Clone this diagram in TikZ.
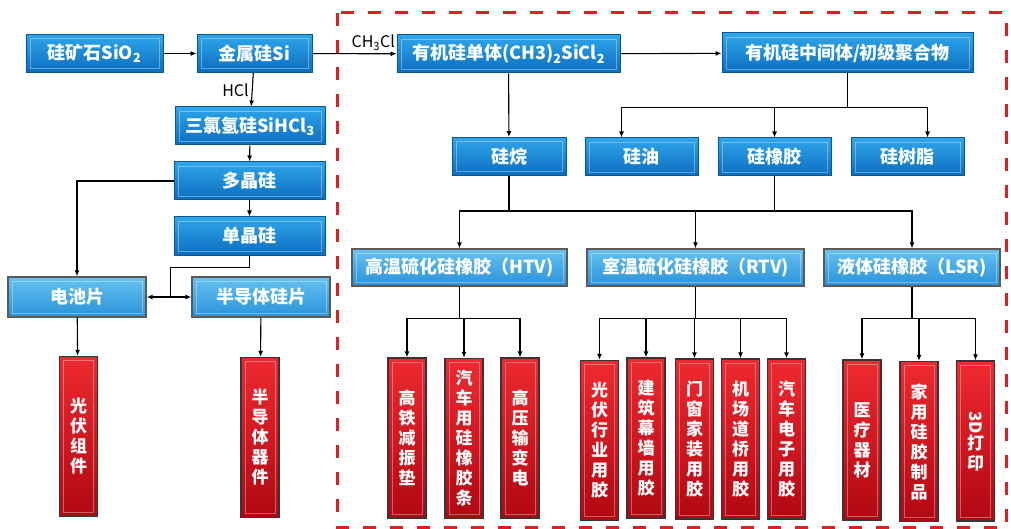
\documentclass[tikz,border=0pt]{standalone}
\usepackage{fontspec}
\setmainfont{Noto Sans CJK SC}
\usepackage{graphicx}
\usepackage{xcolor}
\definecolor{siedge}{HTML}{0A5796}
\definecolor{sitop}{HTML}{2FA6EA}
\definecolor{sibot}{HTML}{0B6DBF}
\definecolor{ltop}{HTML}{66C2F2}
\definecolor{lbot}{HTML}{2A92D8}
\definecolor{ledge}{HTML}{5C5A58}
\definecolor{rtop}{HTML}{EE2A30}
\definecolor{rbot}{HTML}{B00812}
\definecolor{redge}{HTML}{3C3434}
\definecolor{dashred}{HTML}{E01E24}
\usetikzlibrary{arrows.meta}

\tikzset{
  bevel/.style={path picture={\draw[white, opacity=0.35, line width=0.8pt]
      ([xshift=4pt,yshift=4pt]path picture bounding box.south west) rectangle
      ([xshift=-4pt,yshift=-4pt]path picture bounding box.north east);}},
  bluebox/.style={draw=siedge, line width=1pt, top color=sitop, bottom color=sibot, bevel,
      text=white, font=\fontsize{18}{20}\selectfont\bfseries, inner sep=0pt, minimum height=38pt},
  lightbox/.style={draw=ledge, line width=1.4pt, top color=ltop, bottom color=lbot, bevel,
      text=white, font=\fontsize{18}{20}\selectfont\bfseries, inner sep=0pt, minimum height=38pt},
  redbox/.style={draw=redge, line width=1.4pt, top color=rtop, bottom color=rbot, bevel,
      text=white, font=\fontsize{17}{20}\selectfont\bfseries, align=center, inner sep=0pt,
      minimum width=38pt, minimum height=160pt},
  wire/.style={line width=1.1pt},
  conn/.style={line width=1.1pt, -{Latex[length=6pt,width=5pt]}},
  chem/.style={font=\fontsize{16}{18}\selectfont, inner sep=1pt},
}

\begin{document}
\begin{tikzpicture}[x=1pt, y=-1pt]
  \useasboundingbox (0,0) rectangle (1011,529);
  % organic silicon frame
  \draw[dashred, line width=3pt, dash pattern=on 13pt off 14pt] (337,13) rectangle (1006,527);

  % silicon chain (left)
  \node[bluebox, minimum width=137pt] (ore) at (94.5,53.5) {硅矿石SiO\textsubscript{2}};
  \node[bluebox, minimum width=115pt] (msi) at (254.5,53.5) {金属硅Si};
  \node[bluebox, minimum width=150pt] (tcs) at (250,126) {三氯氢硅SiHCl\textsubscript{3}};
  \node[bluebox, minimum width=151pt] (poly) at (249.5,181) {多晶硅};
  \node[bluebox, minimum width=151pt] (mono) at (249.5,236) {单晶硅};
  \node[lightbox, minimum width=138pt, minimum height=40pt] (cell) at (77,297) {电池片};
  \node[lightbox, minimum width=138pt, minimum height=40pt] (wafer) at (261,297) {半导体硅片};
  \node[redbox] (pvmod) at (78.5,436.5) {光\\伏\\组\\件};
  \node[redbox] (semidev) at (260,437.5) {半\\导\\体\\器\\件};

  \draw[conn] (ore) -- (msi);
  \draw[conn] (msi) -- node[chem, left, xshift=-2pt] {HCl} (tcs);
  \draw[conn] (tcs) -- (poly);
  \draw[conn] (poly) -- (mono);
  \draw[conn] (poly.west) -| (cell.north);
  \coordinate (jn) at ([xshift=24pt]cell.east);
  \draw[wire] (mono.south) -- ++(0,12) -| (jn);
  \draw[conn] (jn) -- (cell.east);
  \draw[conn] (jn) -- (wafer.west);
  \draw[conn] (cell) -- (pvmod);
  \draw[conn] (wafer) -- (semidev);

  % organic silicon (right)
  \node[bluebox, minimum width=223pt] (monomer) at (508.5,54) {有机硅单体(CH3)\textsubscript{2}SiCl\textsubscript{2}};
  \node[bluebox, minimum width=251pt, minimum height=40pt] (inter) at (847.5,53) {有机硅中间体/初级聚合物};
  \node[bluebox, minimum width=114pt] (silane) at (509,156.5) {硅烷};
  \node[bluebox, minimum width=113pt] (oil) at (641.5,157) {硅油};
  \node[bluebox, minimum width=113pt] (rubber) at (774.5,157) {硅橡胶};
  \node[bluebox, minimum width=113pt] (resin) at (907.5,157) {硅树脂};

  \draw[conn] (msi) -- node[chem, pos=1, above left, yshift=2pt] {CH\textsubscript{3}Cl} (monomer);
  \draw[conn] (monomer) -- (inter);
  \draw[conn] (monomer) -- (silane);
  \draw[wire] (inter.south) -- ++(0,34) coordinate (br1);
  \draw[conn] (br1) -| ([xshift=-20pt]oil.north);
  \draw[conn] (br1) -| (rubber.north);
  \draw[conn] (br1) -| ([xshift=20pt]resin.north);

  % silicone rubber types
  \node[lightbox, minimum width=215pt, minimum height=37pt] (htv) at (459.5,267.5) {高温硫化硅橡胶（HTV)};
  \node[lightbox, minimum width=217pt, minimum height=37pt] (rtv) at (695.5,267.5) {室温硫化硅橡胶（RTV)};
  \node[lightbox, minimum width=176pt, minimum height=37pt] (lsr) at (912,267.5) {液体硅橡胶（LSR)};

  \draw[wire] (silane.south) -- ++(0,35) coordinate (br2);
  \draw[wire] (rubber.south) -- ++(0,35);
  \draw[conn] (br2) -| (htv.north);
  \draw[conn] (br2) -| (rtv.north);
  \draw[conn] (br2) -| (lsr.north);

  % applications
  \node[redbox] (h1) at (407,438) {高\\铁\\减\\振\\垫};
  \node[redbox] (h2) at (464,438.5) {汽\\车\\用\\硅\\橡\\胶\\条};
  \node[redbox] (h3) at (520,438) {高\\压\\输\\变\\电};
  \node[redbox] (r1) at (599.5,440.5) {光\\伏\\行\\业\\用\\胶};
  \node[redbox] (r2) at (646,438) {建\\筑\\幕\\墙\\用\\胶};
  \node[redbox] (r3) at (694.5,439) {门\\窗\\家\\装\\用\\胶};
  \node[redbox] (r4) at (740.5,439) {机\\场\\道\\桥\\用\\胶};
  \node[redbox] (r5) at (786.5,439) {汽\\车\\电\\子\\用\\胶};
  \node[redbox] (l1) at (862,440) {医\\疗\\器\\材};
  \node[redbox] (l2) at (919,441.5) {家\\用\\硅\\胶\\制\\品};
  \node[redbox] (l3) at (975.5,441) {\rotatebox{-90}{3D}\\打\\印};

  \draw[wire] (htv.south) -- ++(0,32) coordinate (br3);
  \draw[conn] (br3) -| (h1.north);
  \draw[conn] (br3) -| (h2.north);
  \draw[conn] (br3) -| (h3.north);
  \draw[wire] (rtv.south) -- ++(0,32) coordinate (br4);
  \draw[conn] (br4) -| (r1.north);
  \draw[conn] (br4) -| (r2.north);
  \draw[conn] (br4) -| (r3.north);
  \draw[conn] (br4) -| (r4.north);
  \draw[conn] (br4) -| (r5.north);
  \draw[wire] (lsr.south) -- ++(0,32) coordinate (br5);
  \draw[conn] (br5) -| (l1.north);
  \draw[conn] (br5) -| (l2.north);
  \draw[conn] (br5) -| (l3.north);
\end{tikzpicture}
\end{document}
